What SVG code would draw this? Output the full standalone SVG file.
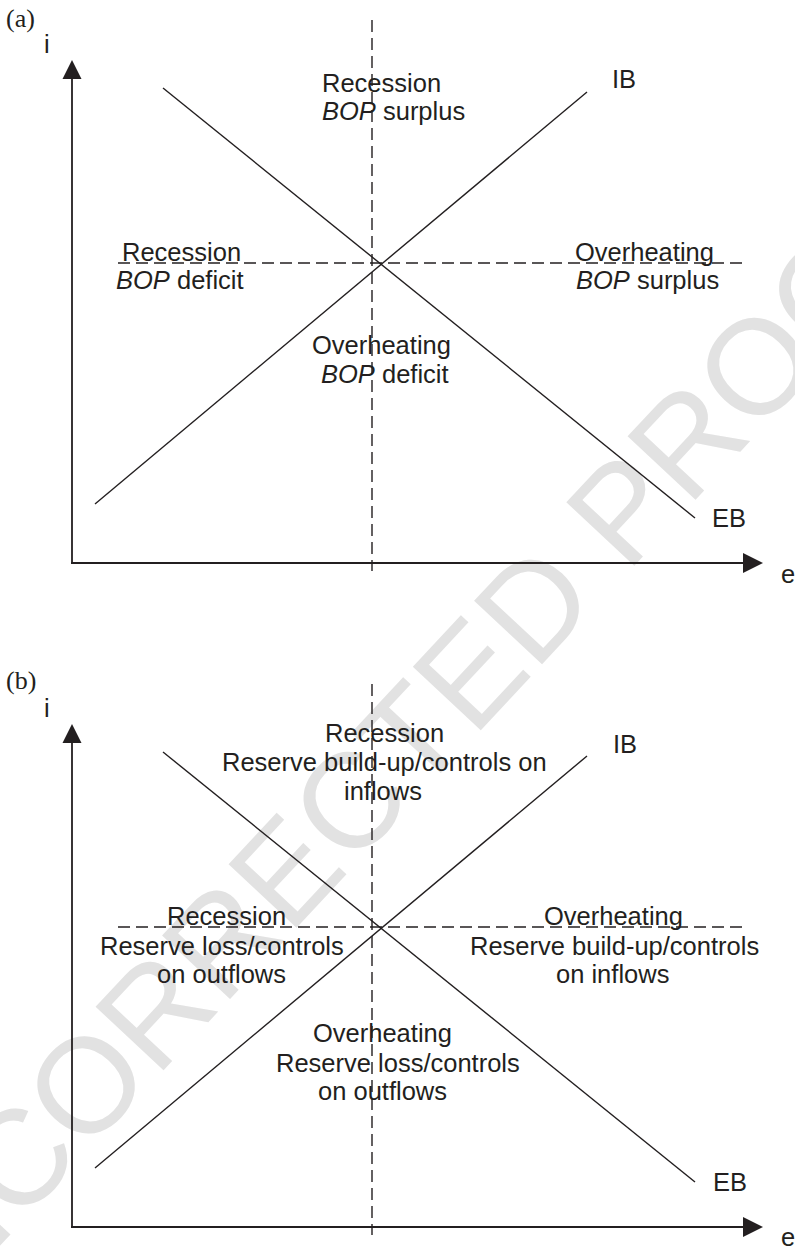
<svg xmlns="http://www.w3.org/2000/svg" width="795" height="1249" viewBox="0 0 795 1249">
<style>
.wm{font-family:"Liberation Sans",Arial,sans-serif;font-size:135px;fill:#e2e2e2}
.ax{stroke:#231f20;stroke-width:1.8;fill:none}
.ln{stroke:#231f20;stroke-width:1.4;fill:none}
.dash{stroke:#231f20;stroke-width:1.4;fill:none;stroke-dasharray:12 6}
.head{fill:#231f20;stroke:none}
.t{font-family:"Liberation Sans",Arial,Helvetica,sans-serif;font-size:25.5px;fill:#231f20}
.cap{font-family:"Liberation Serif","Times New Roman",serif;font-size:26px;fill:#231f20}
.it{font-style:italic}
</style>
<defs>
<polygon id="arrUp" points="0,0 -9.5,19 9.5,19"/>
<polygon id="arrRight" points="0,0 -20,-10 -20,10"/>
</defs>
<rect width="795" height="1249" fill="#ffffff"/>
<g id="watermark">
<text class="wm" transform="translate(-115,1369) rotate(-47)">UNCORRECTED PROOF</text>
</g>

<g id="panel-a">
<text class="cap" x="6" y="27">(a)</text>
<g id="a-axes">
<line class="ax" x1="72" y1="78" x2="72" y2="564"/>
<use href="#arrUp" class="head" x="72" y="60"/>
<text class="t" x="44" y="53">i</text>
<line class="ax" x1="71" y1="563" x2="745" y2="563"/>
<use href="#arrRight" class="head" x="763" y="563"/>
<text class="t" x="781" y="583">e</text>
</g>
<g id="a-connectors">
<line class="dash" x1="372" y1="20" x2="372" y2="571"/>
<line class="dash" x1="118" y1="263" x2="747" y2="263"/>
<line class="ln" x1="163" y1="88" x2="695" y2="518"/>
<line class="ln" x1="95" y1="504" x2="587" y2="92"/>
</g>
<g id="a-IB"><text class="t" x="612" y="88">IB</text></g>
<g id="a-EB"><text class="t" x="712" y="527">EB</text></g>
<g id="a-top">
<text class="t" x="322" y="92">Recession</text>
<text class="t" x="322" y="120"><tspan class="it">BOP</tspan> surplus</text>
</g>
<g id="a-left">
<text class="t" x="122" y="261">Recession</text>
<text class="t" x="116" y="289"><tspan class="it">BOP</tspan> deficit</text>
</g>
<g id="a-right">
<text class="t" x="575" y="261">Overheating</text>
<text class="t" x="576" y="289"><tspan class="it">BOP</tspan> surplus</text>
</g>
<g id="a-bottom">
<text class="t" x="312" y="354">Overheating</text>
<text class="t" x="321" y="383"><tspan class="it">BOP</tspan> deficit</text>
</g>
</g>

<g id="panel-b">
<text class="cap" x="6" y="689">(b)</text>
<g id="b-axes">
<line class="ax" x1="72" y1="742" x2="72" y2="1228"/>
<use href="#arrUp" class="head" x="72" y="724"/>
<text class="t" x="44" y="717">i</text>
<line class="ax" x1="71" y1="1227" x2="745" y2="1227"/>
<use href="#arrRight" class="head" x="763" y="1227"/>
<text class="t" x="781" y="1246">e</text>
</g>
<g id="b-connectors">
<line class="dash" x1="372" y1="684" x2="372" y2="1235"/>
<line class="dash" x1="118" y1="927" x2="747" y2="927"/>
<line class="ln" x1="163" y1="752" x2="695" y2="1182"/>
<line class="ln" x1="95" y1="1168" x2="587" y2="756"/>
</g>
<g id="b-IB"><text class="t" x="613" y="753">IB</text></g>
<g id="b-EB"><text class="t" x="713" y="1191">EB</text></g>
<g id="b-top">
<text class="t" x="325" y="742">Recession</text>
<text class="t" x="222" y="771">Reserve build-up/controls on</text>
<text class="t" x="344" y="800">inflows</text>
</g>
<g id="b-left">
<text class="t" x="167" y="925">Recession</text>
<text class="t" x="100" y="955">Reserve loss/controls</text>
<text class="t" x="157" y="983">on outflows</text>
</g>
<g id="b-right">
<text class="t" x="544" y="925">Overheating</text>
<text class="t" x="470" y="955">Reserve build-up/controls</text>
<text class="t" x="556" y="983">on inflows</text>
</g>
<g id="b-bottom">
<text class="t" x="313" y="1042">Overheating</text>
<text class="t" x="276" y="1072">Reserve loss/controls</text>
<text class="t" x="318" y="1100">on outflows</text>
</g>
</g>
</svg>
